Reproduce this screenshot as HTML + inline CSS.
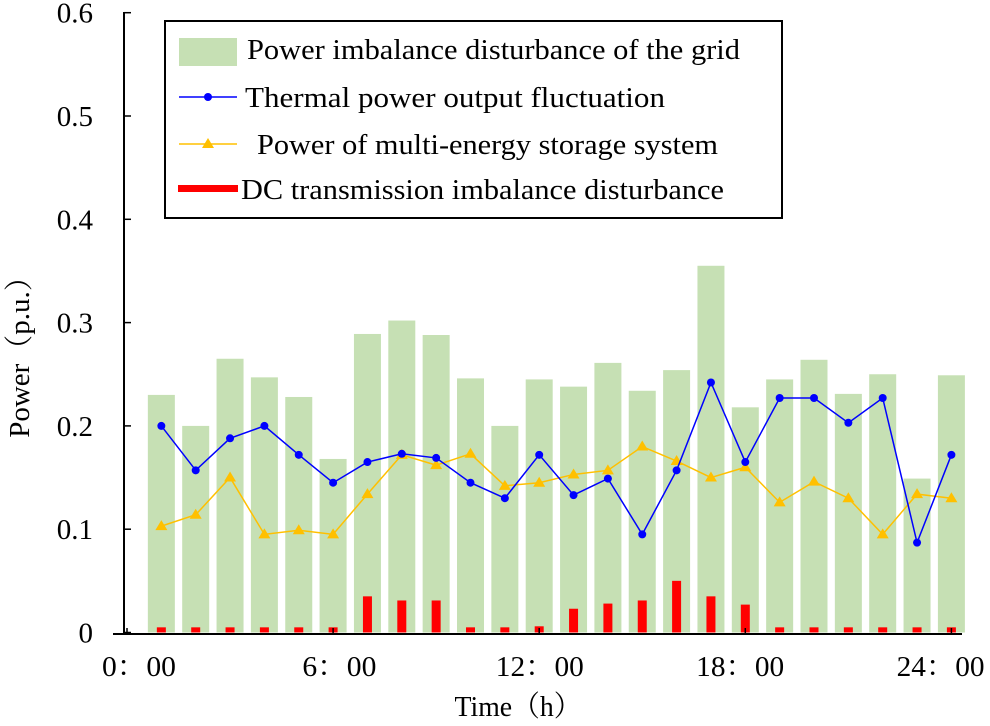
<!DOCTYPE html>
<html><head><meta charset="utf-8"><style>
body{margin:0;background:#fff}
svg text{font-family:"Liberation Serif","Noto Serif CJK SC",serif;fill:#000}
</style></head><body>
<svg width="990" height="721" viewBox="0 0 990 721" xmlns="http://www.w3.org/2000/svg">
<g id="plot"></g>
<g>
<rect x="165" y="21" width="617" height="197" fill="#fff" stroke="#000" stroke-width="2"/>
<rect x="179" y="38" width="58" height="28" fill="#c6e0b4"/>
<text x="247" y="59" font-size="29" textLength="493" lengthAdjust="spacingAndGlyphs">Power imbalance disturbance of the grid</text>
<line x1="179" y1="97" x2="237" y2="97" stroke="#0000ff" stroke-width="1.5"/>
<circle cx="208" cy="97" r="4" fill="#0000ff"/>
<text x="245" y="107" font-size="29" textLength="420" lengthAdjust="spacingAndGlyphs">Thermal  power output fluctuation</text>
<line x1="179" y1="144" x2="237" y2="144" stroke="#ffc000" stroke-width="1.5"/>
<polygon points="208,138 202,148 214,148" fill="#ffc000"/>
<text x="257" y="154" font-size="29" textLength="461" lengthAdjust="spacingAndGlyphs">Power of multi-energy storage system</text>
<rect x="178" y="185" width="60" height="7" fill="#ff0000"/>
<text x="241" y="199" font-size="29" textLength="483" lengthAdjust="spacingAndGlyphs">DC transmission imbalance disturbance</text>
</g>
</svg>
<script>
const hours=[1,2,3,4,5,6,7,8,9,10,11,12,13,14,15,16,17,18,19,20,21,22,23,24];
const gridValues=[0.23,0.2,0.265,0.247,0.228,0.168,0.289,0.302,0.288,0.246,0.2,0.245,0.238,0.261,0.234,0.254,0.355,0.218,0.245,0.264,0.231,0.25,0.149,0.249];
const thermalValues=[0.2,0.157,0.188,0.2,0.172,0.145,0.165,0.173,0.169,0.145,0.13,0.172,0.133,0.149,0.095,0.157,0.242,0.165,0.227,0.227,0.203,0.227,0.087,0.172];
const storageValues=[0.103,0.114,0.15,0.095,0.099,0.095,0.134,0.172,0.162,0.173,0.142,0.145,0.153,0.157,0.18,0.166,0.15,0.16,0.126,0.146,0.13,0.095,0.134,0.13];
const dcValues=[0.005,0.005,0.005,0.005,0.005,0.005,0.035,0.031,0.031,0.005,0.005,0.006,0.023,0.028,0.031,0.05,0.035,0.027,0.005,0.005,0.005,0.005,0.005,0.005];
const yTicks=[0,0.1,0.2,0.3,0.4,0.5,0.6];
const yTickLabels=["0","0.1","0.2","0.3","0.4","0.5","0.6"];
const xTicks=[0,6,12,18,24];
const xTickLabels=["0：00","6：00","12：00","18：00","24：00"];

const NS="http://www.w3.org/2000/svg";
const g=document.getElementById('plot');
const X0=127,STEP=34.35,Y0=632.5,YS=1033;
const xs=h=>X0+h*STEP;
const ys=v=>Y0-v*YS;
function mk(t,a){const e=document.createElementNS(NS,t);for(const k in a)e.setAttribute(k,a[k]);g.appendChild(e);return e;}

gridValues.forEach((v,i)=>{
 const e=mk('rect',{x:xs(hours[i])-13.5,y:ys(v),width:27,height:Y0-ys(v),fill:'#c6e0b4'});
 
 
});
dcValues.forEach((v,i)=>{
 const e=mk('rect',{x:xs(hours[i])-4.5,y:ys(v),width:9,height:Y0-ys(v),fill:'#ff0000'});
 
 
});
let ax=mk('line',{x1:124,y1:12,x2:124,y2:634,stroke:'#000','stroke-width':2});


ax=mk('line',{x1:113,y1:634,x2:962,y2:634,stroke:'#000','stroke-width':2});


yTicks.forEach((v,i)=>{
 mk('line',{x1:124,y1:ys(v),x2:131,y2:ys(v),stroke:'#000','stroke-width':1.5});
 const t=mk('text',{x:93,y:ys(v)+10,'font-size':29,'text-anchor':'end'});
 t.textContent=yTickLabels[i];
 
 
});
xTicks.forEach((h,i)=>{
 mk('line',{x1:xs(h),y1:634,x2:xs(h),y2:628,stroke:'#000','stroke-width':1.5});
 const t=mk('text',{x:139+h*33.4,y:676,'font-size':29,'text-anchor':'middle',textLength:(xTickLabels[i].length>4?88:74),lengthAdjust:'spacingAndGlyphs'});
 t.textContent=xTickLabels[i];
 
 
});
function series(vals,color,name,marker){
 const pl=mk('polyline',{points:vals.map((v,i)=>xs(hours[i])+','+ys(v)).join(' '),fill:'none',stroke:color,'stroke-width':1.5});
 
 
 vals.forEach((v,i)=>{
  const x=xs(hours[i]),y=ys(v);let m;
  if(marker==='circle')m=mk('circle',{cx:x,cy:y,r:4,fill:color});
  else m=mk('polygon',{points:`${x},${y-6} ${x-6},${y+4} ${x+6},${y+4}`,fill:color});
  
  
 });
}
series(storageValues,'#ffc000','storage','tri');
series(thermalValues,'#0000ff','thermal','circle');
let t=mk('text',{x:518,y:716,'font-size':29,'text-anchor':'middle',textLength:127,lengthAdjust:'spacingAndGlyphs'});
t.textContent='Time（h）';


t=mk('text',{x:0,y:0,'font-size':29,'text-anchor':'middle',transform:'translate(29,350) rotate(-90)'});
t.textContent='Power（p.u.）';


</script>
</body></html>
